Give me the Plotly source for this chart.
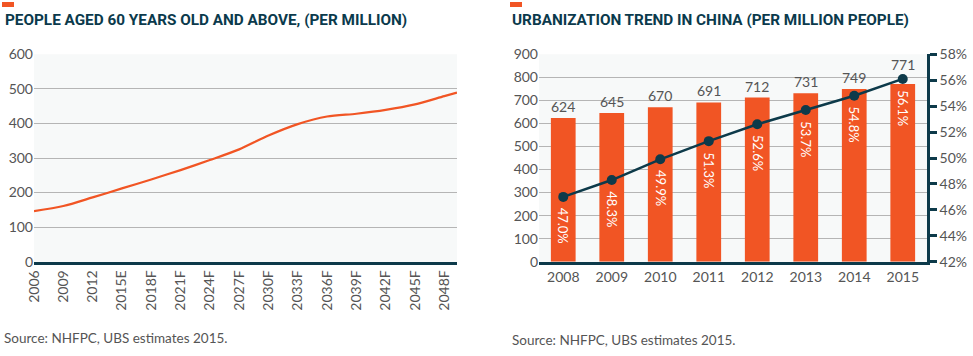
import plotly.graph_objects as go

# ---- Left chart data: people aged 60+ (million) ----
aged_years = [2006, 2009, 2012, 2015, 2018, 2021, 2024, 2027, 2030, 2033, 2036, 2039, 2042, 2045, 2048, 2049.3]
aged_values = [146, 161, 186, 212, 238, 265, 294, 325, 365, 398, 420, 428, 439, 455, 479, 489]
aged_tick_years = [2006, 2009, 2012, 2015, 2018, 2021, 2024, 2027, 2030, 2033, 2036, 2039, 2042, 2045, 2048]
aged_tick_labels = ["2006", "2009", "2012", "2015E", "2018F", "2021F", "2024F", "2027F",
                    "2030F", "2033F", "2036F", "2039F", "2042F", "2045F", "2048F"]

# ---- Right chart data: urbanization ----
urb_years = ["2008", "2009", "2010", "2011", "2012", "2013", "2014", "2015"]
urban_pop = [624, 645, 670, 691, 712, 731, 749, 771]
urban_rate = [47.0, 48.3, 49.9, 51.3, 52.6, 53.7, 54.8, 56.1]

W, H = 973, 356
ORANGE = "#f15524"
NAVY = "#0d3a4a"
GREY_TXT = "#555555"
GRID = "#b5b5b5"
PLOT_BG = "#f7f9f9"
FONT = "Lato"
TITLE_FONT = "Roboto"

Y2_RANGE = [0, 900]
Y3_RANGE = [42, 58]

def fx(px):
    return px / W

def fy(py):
    return 1 - py / H

y_bot, y_top = 261.7, 54.3

fig = go.Figure()

fig.add_trace(go.Scatter(
    x=aged_years, y=aged_values, mode="lines",
    line=dict(color=ORANGE, width=2.2, shape="spline", smoothing=0.8),
    xaxis="x", yaxis="y", showlegend=False, hoverinfo="skip"))

fig.add_trace(go.Bar(
    x=urb_years, y=urban_pop, marker=dict(color=ORANGE, line=dict(width=0)),
    width=0.51, xaxis="x2", yaxis="y2", showlegend=False))

fig.add_trace(go.Scatter(
    x=urb_years, y=urban_rate, mode="lines+markers",
    line=dict(color=NAVY, width=2.5),
    marker=dict(color=NAVY, size=10),
    xaxis="x2", yaxis="y3", showlegend=False))

annotations = []
extra_shift = {"2015": 8}
# category axis: annotation x given as category index
for i, (yr, v) in enumerate(zip(urb_years, urban_pop)):
    annotations.append(dict(
        x=i, y=v, xref="x2", yref="y2", text=str(v), showarrow=False,
        yanchor="bottom", yshift=1 + extra_shift.get(yr, 0),
        font=dict(family=FONT, size=14, color=GREY_TXT)))
for i, r in enumerate(urban_rate):
    annotations.append(dict(
        x=i, y=r, xref="x2", yref="y3", text=f"{r:.1f}%", showarrow=False,
        textangle=90, xanchor="center", yanchor="middle", yshift=-29,
        font=dict(family=FONT, size=13, color="white")))

annotations += [
    dict(x=fx(3), y=fy(20), xref="paper", yref="paper", xanchor="left", yanchor="middle",
         text="<b>PEOPLE AGED 60 YEARS OLD AND ABOVE, (PER MILLION)</b>", showarrow=False,
         font=dict(family=TITLE_FONT, size=15.3, color="#0b3a4c")),
    dict(x=fx(510), y=fy(20), xref="paper", yref="paper", xanchor="left", yanchor="middle",
         text="<b>URBANIZATION TREND IN CHINA (PER MILLION PEOPLE)</b>", showarrow=False,
         font=dict(family=TITLE_FONT, size=15.3, color="#0b3a4c")),
    dict(x=fx(2), y=fy(338), xref="paper", yref="paper", xanchor="left", yanchor="middle",
         text="Source: NHFPC, UBS estimates 2015.", showarrow=False,
         font=dict(family=FONT, size=13.5, color=GREY_TXT)),
    dict(x=fx(510), y=fy(340), xref="paper", yref="paper", xanchor="left", yanchor="middle",
         text="Source: NHFPC, UBS estimates 2015.", showarrow=False,
         font=dict(family=FONT, size=13.5, color=GREY_TXT)),
]

shapes = [
    dict(type="rect", xref="paper", yref="paper", x0=fx(2), x1=fx(14), y0=fy(7), y1=fy(2),
         fillcolor=ORANGE, line=dict(width=0)),
    dict(type="rect", xref="paper", yref="paper", x0=fx(510), x1=fx(522), y0=fy(7), y1=fy(2),
         fillcolor=ORANGE, line=dict(width=0)),
    dict(type="rect", xref="x domain", yref="y domain", x0=0, x1=1, y0=0, y1=1,
         fillcolor=PLOT_BG, line=dict(width=0), layer="below"),
    dict(type="rect", xref="x2 domain", yref="y2 domain", x0=0, x1=1, y0=0, y1=1,
         fillcolor=PLOT_BG, line=dict(width=0), layer="below"),
]

tickfont = dict(family=FONT, size=14, color=GREY_TXT)

fig.update_layout(
    width=W, height=H, margin=dict(l=0, r=0, t=0, b=0, pad=0, autoexpand=False),
    paper_bgcolor="white", plot_bgcolor="rgba(0,0,0,0)",
    annotations=annotations, shapes=shapes, bargap=0.49,
    xaxis=dict(domain=[fx(34), fx(457)], range=[2006, 2049.3], tickvals=aged_tick_years,
               ticktext=aged_tick_labels, tickangle=-90, tickfont=tickfont, automargin=False,
               showgrid=False, zeroline=False, showline=True, linecolor=NAVY, linewidth=3,
               ticks="", anchor="y"),
    yaxis=dict(domain=[fy(y_bot), fy(y_top)], range=[0, 600], dtick=100, tickfont=tickfont,
               showgrid=True, gridcolor=GRID, gridwidth=1, zeroline=False, showline=False,
               ticks="", anchor="x", automargin=False),
    xaxis2=dict(domain=[fx(539), fx(927)], range=[-0.5, 7.5], type="category",
                tickfont=tickfont, showgrid=False, zeroline=False, showline=True, automargin=False,
                linecolor=NAVY, linewidth=3, ticks="", anchor="y2"),
    yaxis2=dict(domain=[fy(y_bot), fy(y_top)], range=Y2_RANGE, dtick=100, tickfont=tickfont,
                showgrid=True, gridcolor=GRID, gridwidth=1, zeroline=False, showline=False,
                ticks="", anchor="x2", automargin=False),
    yaxis3=dict(overlaying="y2", side="right", range=Y3_RANGE, dtick=2, ticksuffix="%",
                tickfont=tickfont, showgrid=False, zeroline=False, showline=True, automargin=False,
                linecolor=NAVY, linewidth=2.5, ticks="outside", ticklen=7, tickwidth=2.5,
                tickcolor=NAVY, anchor="x2"),
)

fig.write_html(
    "out.html",
    config={"displayModeBar": False},
    post_script="document.body.style.margin='0';document.body.style.overflow='hidden';",
)
